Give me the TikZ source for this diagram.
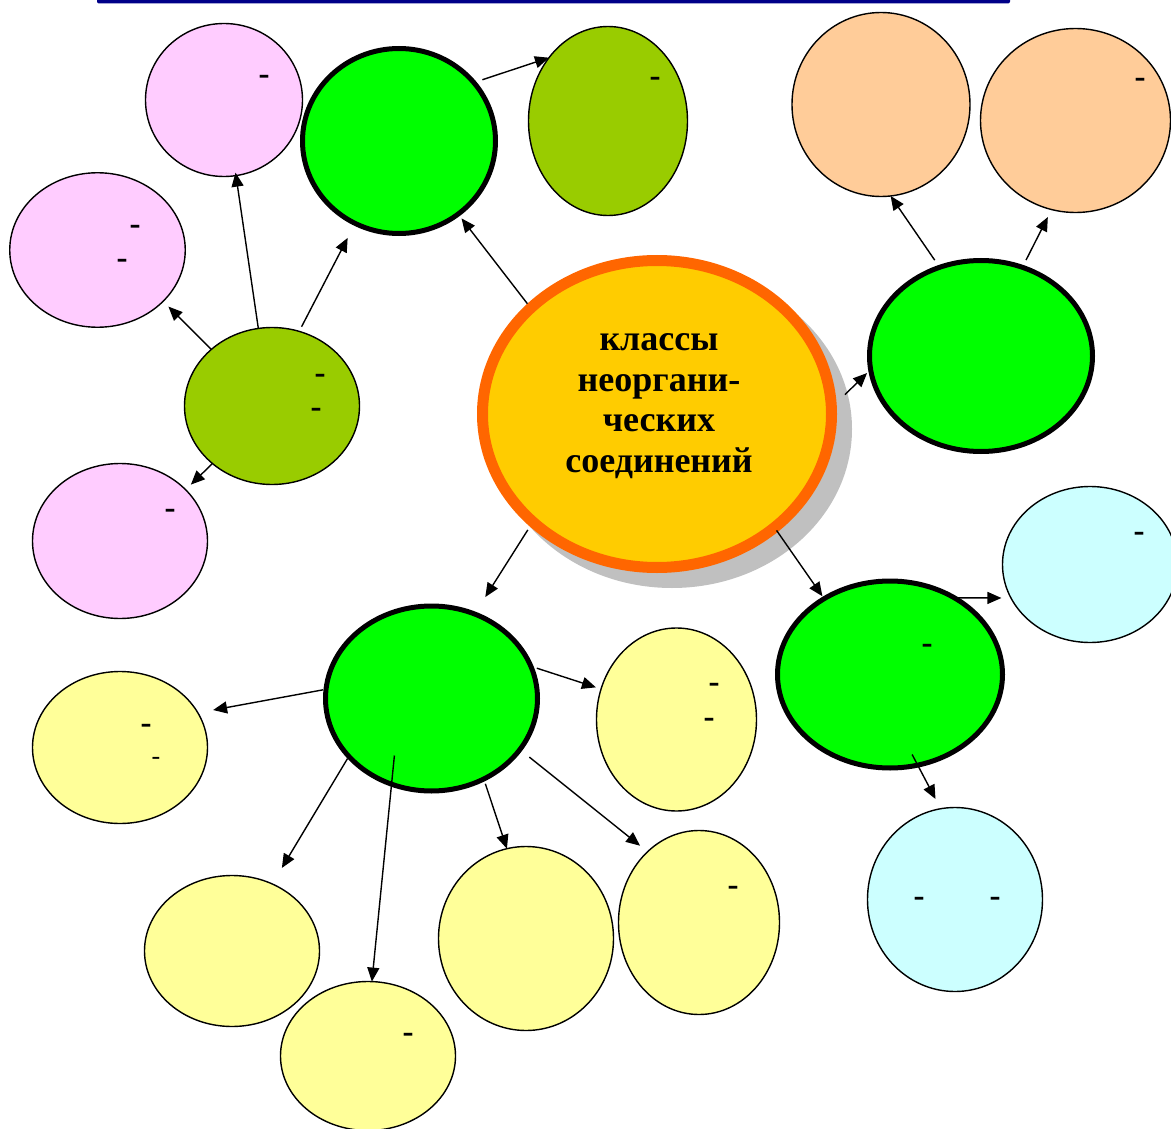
\documentclass[tikz,border=0pt]{standalone}
\usepackage{fontspec}
\setmainfont{Liberation Serif}
\usetikzlibrary{shapes.geometric,arrows.meta}

\definecolor{hubgreen}{HTML}{00FF00}
\definecolor{olive}{HTML}{99CC00}
\definecolor{pinkfill}{HTML}{FFCCFF}
\definecolor{peach}{HTML}{FFCC99}
\definecolor{icecyan}{HTML}{CCFFFF}
\definecolor{paleyellow}{HTML}{FFFF99}
\definecolor{gold}{HTML}{FFCC00}
\definecolor{rimorange}{HTML}{FF6600}
\definecolor{shadowgray}{HTML}{C0C0C0}
\definecolor{navybar}{HTML}{000088}

\tikzset{
  oval/.style 2 args={ellipse, inner sep=0pt, outer sep=0pt,
    minimum width=#1pt, minimum height=#2pt},
  bubble/.style={draw=black, line width=1.4pt},
  hub/.style={draw=black, line width=5pt, fill=hubgreen},
  link/.style={line width=1.4pt, -{Triangle[length=14pt,width=12pt]}},
  dashbig/.style={inner sep=0pt, outer sep=0pt,
    font=\fontsize{33}{33}\selectfont\bfseries, yshift=-4pt},
  dashsmall/.style={inner sep=0pt, outer sep=0pt,
    font=\fontsize{26}{26}\selectfont, yshift=-3pt},
}

\begin{document}
\begin{tikzpicture}[x=1pt,y=-1pt]
\useasboundingbox (0,0) rectangle (1171,1129);

% title bar along the top edge
\fill[navybar, rounded corners=2pt] (97,-4) rectangle (1010,3.5);

% central circle with its shadow
\node[oval={360}{318}, fill=shadowgray] (cshadow) at (672,429) {};
\node[oval={349}{307}, fill=gold, draw=rimorange, line width=11pt] (C) at (657,414) {};
\node[align=center, font=\fontsize{36}{40.7}\selectfont\bfseries, inner sep=0pt]
  (ctitle) at (659,406) {классы\\неоргани-\\ческих\\соединений};

% upper left group
\node[oval={193}{185}, hub] (G1) at (399,141) {};
\node[oval={157}{153}, bubble, fill=pinkfill] (P1) at (224,100) {};
\node[oval={159}{189}, bubble, fill=olive] (O1) at (608,121) {};
\node[oval={175.5}{154.5}, bubble, fill=pinkfill] (P2) at (97.5,250) {};
\node[oval={175}{157}, bubble, fill=olive] (O2) at (272,406) {};
\node[oval={175}{155}, bubble, fill=pinkfill] (P3) at (120,541) {};

% upper right group
\node[oval={178}{184}, bubble, fill=peach] (Pe1) at (881,104.5) {};
\node[oval={190}{184}, bubble, fill=peach] (Pe2) at (1075.5,120.5) {};
\node[oval={223}{191}, hub] (G3) at (981,356) {};

% lower right group
\node[oval={225}{187}, hub] (G4) at (890,674.5) {};
\node[oval={175}{156}, bubble, fill=icecyan] (C1) at (1090,564.5) {};
\node[oval={175}{184}, bubble, fill=icecyan] (C2) at (955,899.5) {};

% lower left group
\node[oval={212}{185}, hub] (G2) at (431.5,698.5) {};
\node[oval={175}{152}, bubble, fill=paleyellow] (Y1) at (120,747.5) {};
\node[oval={160}{183}, bubble, fill=paleyellow] (Y2) at (676.5,719.5) {};
\node[oval={175}{151}, bubble, fill=paleyellow] (Y3) at (232,951) {};
\node[oval={175}{149}, bubble, fill=paleyellow] (Y4) at (368,1056) {};
\node[oval={175}{184}, bubble, fill=paleyellow] (Y5) at (526,938.5) {};
\node[oval={161}{184}, bubble, fill=paleyellow] (Y6) at (699,922.5) {};

% hyphens left inside the ovals
\node[dashbig] (d1) at (264,76) {-};
\node[dashbig] (d2) at (655,78) {-};
\node[dashbig] (d3) at (135,226) {-};
\node[dashbig] (d4) at (122,260) {-};
\node[dashbig] (d5) at (320,375) {-};
\node[dashbig] (d6) at (316,409) {-};
\node[dashbig] (d7) at (170,510) {-};
\node[dashbig] (d8) at (1140,79) {-};
\node[dashbig] (d9) at (1139,533) {-};
\node[dashbig] (d10) at (927,645) {-};
\node[dashbig] (d11) at (919,898) {-};
\node[dashbig] (d12) at (995,898) {-};
\node[dashbig] (d13) at (146,725) {-};
\node[dashsmall] (d14) at (156,758) {-};
\node[dashbig] (d15) at (714,684) {-};
\node[dashbig] (d16) at (709,719) {-};
\node[dashbig] (d17) at (733,887) {-};
\node[dashbig] (d18) at (408,1034) {-};

% connectors
\draw[link, shorten <=5.5pt, shorten >=5.4pt] (C.140) -- (G1.309);
\draw[link, shorten <=19pt, shorten >=5pt] (C.2) -- (G3.187);
\draw[link, shorten <=9.5pt, shorten >=20pt] (C.221) -- (G2.63);
\draw[link, shorten <=3.6pt, shorten >=3pt] (C.316) -- (G4.131);

\draw[link, shorten <=9pt] (G1.38) -- (O1.133);
\draw[link, shorten >=-3pt] (O2.100) -- (P1.279);
\draw[link, shorten <=5.2pt, shorten >=16.3pt] (O2.70) -- (G1.242);
\draw[link, shorten >=7.5pt] (O2.137) -- (P2.322);
\draw[link, shorten >=7.3pt] (O2.224) -- (P3.38);

\draw[link, shorten <=8.7pt] (G3.115) -- (Pe1.276);
\draw[link, shorten <=8.1pt, shorten >=8.4pt] (G3.65) -- (Pe2.255);

\draw[link, shorten <=3pt, shorten >=9.6pt] (G4.50) -- (C1.203);
\draw[link, shorten <=-12pt, shorten >=11pt] (G4.287) -- (C2.99);

\draw[link, shorten <=3.1pt, shorten >=15.5pt] (G2.175) -- (Y1.24);
\draw[link, shorten <=6.3pt, shorten >=5.4pt] (G2.18) -- (Y2.158);
\draw[link, shorten <=2.5pt, shorten >=18.7pt] (G2.215) -- (Y3.59);
\draw[link, shorten <=-28.8pt] (G2.245) -- (Y4.87);
\draw[link, shorten <=5pt] (G2.303) -- (Y5.102);
\draw[link, shorten <=12.1pt, shorten >=9.6pt] (G2.330) -- (Y6.126);
\end{tikzpicture}
\end{document}
